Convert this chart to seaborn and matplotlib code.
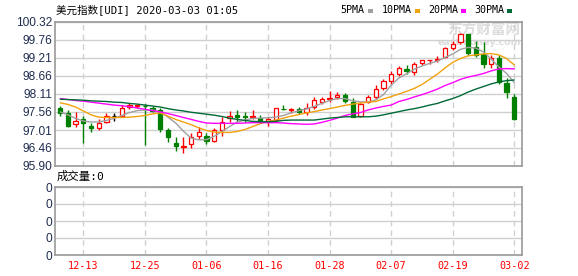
import numpy as np
import pandas as pd
import matplotlib
matplotlib.use("Agg")
import matplotlib.pyplot as plt
import seaborn as sns
from matplotlib.patches import Rectangle

# ---------------- data ----------------
dates = ["12-10", "12-11", "12-12", "12-13", "12-16", "12-17", "12-18", "12-19", "12-20", "12-23",
         "12-24", "12-25", "12-26", "12-27", "12-30", "12-31", "01-01", "01-02", "01-03", "01-06",
         "01-07", "01-08", "01-09", "01-10", "01-13", "01-14", "01-15", "01-16", "01-17", "01-20",
         "01-21", "01-22", "01-23", "01-24", "01-27", "01-28", "01-29", "01-30", "01-31", "02-03",
         "02-04", "02-05", "02-06", "02-07", "02-10", "02-11", "02-12", "02-13", "02-14", "02-17",
         "02-18", "02-19", "02-20", "02-21", "02-24", "02-25", "02-26", "02-27", "02-28", "03-02"]

open_ = [97.67, 97.52, 97.18, 97.33, 97.14, 97.08, 97.26, 97.43, 97.45, 97.71,
         97.74, 97.75, 97.67, 97.62, 97.01, 96.62, 96.49, 96.57, 96.83, 96.82,
         96.66, 97.00, 97.38, 97.46, 97.42, 97.41, 97.36, 97.28, 97.31, 97.65,
         97.63, 97.64, 97.55, 97.72, 97.86, 97.97, 98.01, 98.08, 97.87, 97.43,
         97.87, 98.02, 98.30, 98.51, 98.71, 98.89, 98.79, 99.06, 99.14, 99.15,
         99.25, 99.53, 99.71, 99.94, 99.55, 99.33, 99.04, 99.22, 98.45, 98.02]
high = [97.74, 97.62, 97.55, 97.44, 97.21, 97.33, 97.52, 97.54, 97.77, 97.83,
        97.81, 97.80, 97.74, 97.67, 97.06, 96.78, 96.78, 96.90, 97.09, 96.90,
        97.06, 97.41, 97.60, 97.62, 97.55, 97.62, 97.46, 97.39, 97.69, 97.77,
        97.69, 97.72, 97.83, 98.01, 98.03, 98.21, 98.18, 98.15, 97.98, 97.86,
        98.08, 98.38, 98.56, 98.82, 98.97, 98.99, 99.09, 99.14, 99.16, 99.27,
        99.55, 99.73, 99.99, 99.94, 99.73, 99.71, 99.32, 99.30, 98.60, 98.12]
low = [97.43, 97.11, 97.11, 96.62, 96.95, 97.01, 97.21, 97.29, 97.41, 97.66,
       97.68, 96.55, 97.55, 96.95, 96.65, 96.37, 96.31, 96.44, 96.73, 96.57,
       96.63, 96.82, 97.26, 97.26, 97.26, 97.34, 97.21, 97.13, 97.26, 97.62,
       97.54, 97.49, 97.47, 97.65, 97.79, 97.87, 97.95, 97.83, 97.39, 97.39,
       97.83, 97.95, 98.22, 98.43, 98.65, 98.72, 98.68, 98.99, 99.04, 99.09,
       99.22, 99.45, 99.65, 99.30, 99.25, 98.92, 98.92, 98.41, 97.99, 97.30]
close = [97.52, 97.14, 97.28, 97.23, 97.08, 97.21, 97.43, 97.43, 97.67, 97.76,
         97.77, 97.73, 97.60, 97.03, 96.80, 96.52, 96.50, 96.80, 96.93, 96.67,
         97.00, 97.26, 97.43, 97.39, 97.41, 97.42, 97.26, 97.33, 97.67, 97.64,
         97.64, 97.55, 97.69, 97.93, 97.96, 97.98, 98.08, 97.90, 97.41, 97.80,
         98.01, 98.27, 98.50, 98.73, 98.91, 98.81, 99.02, 99.14, 99.16, 99.17,
         99.52, 99.64, 99.94, 99.38, 99.32, 99.04, 99.22, 98.48, 98.17, 97.33]

ma5 = [97.56, 97.47, 97.36, 97.28, 97.25, 97.25, 97.30, 97.36, 97.45, 97.54,
       97.60, 97.62, 97.62, 97.56, 97.40, 97.22, 96.97, 96.76, 96.70, 96.71,
       96.81, 96.96, 97.11, 97.25, 97.31, 97.36, 97.37, 97.38, 97.40, 97.45,
       97.53, 97.60, 97.65, 97.73, 97.82, 97.91, 97.97, 97.97, 97.90, 97.87,
       97.86, 97.93, 98.09, 98.38, 98.60, 98.73, 98.87, 98.97, 99.05, 99.12,
       99.23, 99.34, 99.48, 99.54, 99.52, 99.40, 99.18, 98.94, 98.74, 98.46]
ma10 = [97.84, 97.79, 97.71, 97.59, 97.47, 97.40, 97.39, 97.39, 97.39, 97.40,
        97.42, 97.45, 97.50, 97.53, 97.43, 97.33, 97.25, 97.17, 97.07, 96.99,
        96.94, 96.93, 96.93, 96.96, 97.02, 97.11, 97.20, 97.27, 97.31, 97.37,
        97.43, 97.48, 97.53, 97.57, 97.62, 97.66, 97.71, 97.76, 97.80, 97.83,
        97.86, 97.88, 97.96, 98.03, 98.11, 98.19, 98.28, 98.40, 98.56, 98.72,
        98.91, 99.08, 99.20, 99.28, 99.31, 99.34, 99.35, 99.31, 99.20, 99.00]
ma20 = [97.97, 97.94, 97.91, 97.89, 97.86, 97.83, 97.80, 97.77, 97.75, 97.72,
        97.68, 97.64, 97.60, 97.56, 97.51, 97.45, 97.39, 97.33, 97.27, 97.22,
        97.21, 97.21, 97.21, 97.21, 97.22, 97.23, 97.23, 97.23, 97.23, 97.22,
        97.20, 97.19, 97.18, 97.19, 97.24, 97.30, 97.37, 97.45, 97.50, 97.54,
        97.62, 97.68, 97.73, 97.77, 97.88, 97.94, 98.02, 98.09, 98.17, 98.26,
        98.37, 98.46, 98.56, 98.63, 98.68, 98.74, 98.82, 98.88, 98.89, 98.88]
ma30 = [97.95, 97.94, 97.93, 97.92, 97.90, 97.89, 97.88, 97.86, 97.85, 97.82,
        97.80, 97.77, 97.74, 97.71, 97.66, 97.62, 97.59, 97.55, 97.52, 97.49,
        97.46, 97.42, 97.37, 97.33, 97.30, 97.27, 97.26, 97.26, 97.27, 97.30,
        97.31, 97.31, 97.31, 97.31, 97.34, 97.37, 97.39, 97.41, 97.41, 97.41,
        97.41, 97.43, 97.47, 97.52, 97.57, 97.62, 97.66, 97.71, 97.77, 97.82,
        97.90, 97.97, 98.06, 98.17, 98.26, 98.34, 98.42, 98.48, 98.52, 98.54]
volume = [0] * 60

ytick_labels = ["100.32", "99.76", "99.21", "98.66", "98.11", "97.56", "97.01", "96.46", "95.90"]
xtick_dates = ["12-13", "12-25", "01-06", "01-16", "01-28", "02-07", "02-19", "03-02"]
vol_tick_labels = ["0", "0", "0", "0", "0"]
ma_names = ["5PMA", "10PMA", "20PMA", "30PMA"]
ma_colors = ["#a0a0a0", "#f2a20c", "#ff00ff", "#006b36"]
title_text = "美元指数[UDI] 2020-03-03 01:05"
vol_text = "成交量:0"

# ---------------- style ----------------
sns.set_theme(style="white")
plt.rcParams["font.family"] = ["DejaVu Sans Mono", "Noto Sans CJK SC", "DejaVu Sans"]

W, H = 578, 276
fig = plt.figure(figsize=(W / 100, H / 100), dpi=100)
fig.patch.set_facecolor("white")


def rect(l, t, r, b):
    return [l / W, 1 - b / H, (r - l) / W, (b - t) / H]


ax = fig.add_axes(rect(55, 22, 522, 166))
axv = fig.add_axes(rect(55, 187, 522, 255))

df = pd.DataFrame({"date": dates, "open": open_, "high": high, "low": low,
                   "close": close, "ma5": ma5, "ma10": ma10, "ma20": ma20,
                   "ma30": ma30, "volume": volume})
df["x"] = np.arange(len(df))

RED = "#ff0000"
GREEN = "#008000"

up = df[df["close"] > df["open"]]
down = df[df["close"] < df["open"]]
flat = df[df["close"] == df["open"]]

# wicks
wick_colors = [RED if c > o else (GREEN if c < o else "black")
               for o, c in zip(df["open"], df["close"])]
ax.vlines(df["x"], df["low"], df["high"], colors=wick_colors, linewidth=1.0, zorder=2)

bw = 0.56
ax.bar(up["x"], (up["close"] - up["open"]), bottom=up["open"], width=bw,
       facecolor="white", edgecolor=RED, linewidth=0.9, zorder=3)
ax.bar(down["x"], (down["open"] - down["close"]), bottom=down["close"], width=bw,
       facecolor=GREEN, edgecolor=GREEN, linewidth=0.9, zorder=3)
ax.hlines(flat["open"], flat["x"] - bw / 2, flat["x"] + bw / 2, colors="black",
          linewidth=1.0, zorder=3)

for col, c in zip(["ma5", "ma10", "ma20", "ma30"], ma_colors):
    sns.lineplot(data=df, x="x", y=col, ax=ax, color=c, linewidth=1.0,
                 legend=False, zorder=4)

# axes limits / ticks
ymin, ymax = float(ytick_labels[-1]), float(ytick_labels[0])
ax.set_ylim(ymin, ymax)
ax.set_xlim(-0.68, 60.0)
ax.set_yticks(np.linspace(ymin, ymax, len(ytick_labels)))
ax.set_yticklabels(ytick_labels[::-1])
xt = [dates.index(d) for d in xtick_dates]
ax.set_xticks(xt)
ax.set_xticklabels([])
ax.set_xlabel("")
ax.set_ylabel("")

grid_c = "#d0d0d0"
for a in (ax, axv):
    a.set_axisbelow(True)
    a.yaxis.grid(True, color=grid_c, linewidth=1.0, linestyle="-")
    a.xaxis.grid(True, color=grid_c, linewidth=1.0, linestyle=(0, (4, 3)))
    for s in a.spines.values():
        s.set_color("#9a9a9a")
        s.set_linewidth(1.2)
        s.set_visible(True)
    a.tick_params(axis="both", length=0)
    a.tick_params(axis="y", pad=2, labelsize=8.6, labelcolor="#1f2d4f")
    for lab in a.get_yticklabels():
        lab.set_fontfamily(["Liberation Sans", "DejaVu Sans"])

# volume panel
axv.bar(df["x"], df["volume"], width=bw, color=GREEN)
axv.set_xlim(-0.68, 60.0)
axv.set_ylim(0, 4)
axv.set_yticks(np.arange(len(vol_tick_labels)))
axv.set_yticklabels(vol_tick_labels)
for lab in axv.get_yticklabels():
    lab.set_fontfamily(["Liberation Sans", "DejaVu Sans"])
axv.set_xticks(xt)
axv.set_xticklabels(xtick_dates)
axv.tick_params(axis="x", pad=4, labelsize=7.3, labelcolor="#ff0000")
axv.set_xlabel("")
axv.set_ylabel("")

# watermark
ax.text(0.997, 0.945, "东方财富网", transform=ax.transAxes, ha="right", va="center",
        fontsize=10.5, fontweight="bold", color="#dcdcdc", zorder=0.5,
        family=["Noto Sans CJK SC"])
ax.text(0.997, 0.86, "eastmoney.com", transform=ax.transAxes, ha="right", va="center",
        fontsize=6.8, fontweight="bold", color="#dcdcdc", zorder=0.5,
        family=["DejaVu Sans"])

# title and legend
fig.text(56 / W, 1 - 10 / H, title_text, ha="left", va="center", fontsize=7.6,
         color="black")
leg_x = [340, 382, 428, 474]
sq_x = [368, 415, 461, 507]
for name, c, tx, sx in zip(ma_names, ma_colors, leg_x, sq_x):
    fig.text(tx / W, 1 - 10 / H, name, ha="left", va="center", fontsize=7.2,
             color="black")
    fig.add_artist(Rectangle((sx / W, 1 - 12.5 / H), 5 / W, 4 / H,
                             transform=fig.transFigure, facecolor=c,
                             edgecolor="none"))

fig.text(57 / W, 1 - 176 / H, vol_text, ha="left", va="center", fontsize=8.2,
         color="black")

fig.savefig("out.png", dpi=100, facecolor="white")
